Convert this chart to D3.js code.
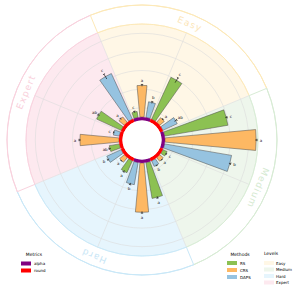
<!DOCTYPE html>
<html>
<head>
<meta charset="utf-8">
<script src="https://cdn.jsdelivr.net/npm/d3@7"></script>
<style>
  html, body { margin: 0; padding: 0; background: #fff; }
  svg text { font-family: "DejaVu Sans", sans-serif; }
</style>
</head>
<body>
<div id="chart"></div>
<script>
// levels (quadrants), methods and per-task data
const levels = ["Easy", "Medium", "Hard", "Expert"];
const methods = ["RS", "CRS", "DAPS"];
const tasks = ["t1", "t2", "t3", "t4", "t5", "t6", "t7", "t8"];
const taskMetric = ["alpha", "round", "alpha", "round", "alpha", "round", "round", "round"];
const metrics = ["alpha", "round"];

// bar heights (arbitrary radial units 0-100)
const rsValues = [6.5, 49.5, 69, 5, 39, 14, 11, 29];
const crsValues = [34, 6.5, 98, 5, 53, 6.5, 42, 7.5];
const dapsValues = [17, 17, 73, 6.5, 24, 17, 6.5, 54];
const rsErr = [0.8, 3, 1, 0.5, 1, 1, 1, 1];
const crsErr = [1, 0.8, 1, 0.5, 1, 0.5, 1, 0.8];
const dapsErr = [1, 1.5, 1, 0.5, 1, 1, 0.5, 3];
const rsLetters = ["c", "c", "c", "c", "a", "a", "ab", "ab"];
const crsLetters = ["a", "a", "a", "a", "a", "a", "a", "a"];
const dapsLetters = ["b", "ab", "b", "b", "b", "b", "c", "c"];

const width = 298, height = 289;
const cx = 142, cy = 140;
const r0 = 23, rShade = 116, rOuter = 135;

const methodColor = d3.scaleOrdinal().domain(methods).range(["#8cc152", "#fdb863", "#96c3e0"]);
const metricColor = d3.scaleOrdinal().domain(metrics).range(["#800080", "#ff0000"]);
const levelFill = d3.scaleOrdinal().domain(levels).range(["#fff7e6", "#eef6ec", "#e6f5fd", "#fde9ef"]);
const levelLine = d3.scaleOrdinal().domain(levels).range(["#fde9b8", "#d8ecd5", "#c9e8f8", "#f9d2de"]);
const levelText = d3.scaleOrdinal().domain(levels).range(["#fce6b8", "#d4e9d0", "#c8e6f6", "#f9cfdb"]);

const rows = [];
tasks.forEach((t, i) => {
  rows.push({ task: t, method: "RS", value: rsValues[i], err: rsErr[i], letter: rsLetters[i] });
  rows.push({ task: t, method: "CRS", value: crsValues[i], err: crsErr[i], letter: crsLetters[i] });
  rows.push({ task: t, method: "DAPS", value: dapsValues[i], err: dapsErr[i], letter: dapsLetters[i] });
});
rows.forEach((d, i) => d.key = i);

const off = -Math.PI / 8;
const angle = d3.scaleBand().domain(rows.map(d => d.key))
  .range([off, off + 2 * Math.PI]).paddingInner(0.3).paddingOuter(0.15);
const levelAngle = d3.scaleBand().domain(levels).range([off, off + 2 * Math.PI]);
const taskAngle = d3.scaleBand().domain(tasks).range([off, off + 2 * Math.PI]);
const y = d3.scaleLinear().domain([0, 100]).range([r0, rShade]);

const pt = (a, r) => [r * Math.sin(a), -r * Math.cos(a)];

const svg = d3.select("#chart").append("svg")
  .attr("width", width).attr("height", height)
  .attr("viewBox", [0, 0, width, height]);

const g = svg.append("g").attr("transform", `translate(${cx},${cy})`);

// level sectors
g.selectAll(".sector").data(levels).join("path")
  .attr("d", d => d3.arc()({ innerRadius: 0, outerRadius: rShade,
    startAngle: levelAngle(d), endAngle: levelAngle(d) + levelAngle.bandwidth() }))
  .attr("fill", d => levelFill(d));

// outer thin ring per level
g.selectAll(".outer").data(levels).join("path")
  .attr("d", d => d3.arc()({ innerRadius: rOuter, outerRadius: rOuter,
    startAngle: levelAngle(d), endAngle: levelAngle(d) + levelAngle.bandwidth() }))
  .attr("fill", "none")
  .attr("stroke", d => levelLine(d)).attr("stroke-width", 1);

// edge of shaded area
g.selectAll(".edge").data(levels).join("path")
  .attr("d", d => d3.arc()({ innerRadius: rShade, outerRadius: rShade,
    startAngle: levelAngle(d), endAngle: levelAngle(d) + levelAngle.bandwidth() }))
  .attr("fill", "none")
  .attr("stroke", d => levelLine(d)).attr("stroke-width", 0.8);

// boundary lines between levels
g.selectAll(".bound").data(levels).join("line")
  .attr("x1", d => pt(levelAngle(d), rShade)[0]).attr("y1", d => pt(levelAngle(d), rShade)[1])
  .attr("x2", d => pt(levelAngle(d), rOuter)[0]).attr("y2", d => pt(levelAngle(d), rOuter)[1])
  .attr("stroke", d => levelLine(d)).attr("stroke-width", 1);

// grid circles
const gridVals = [10, 30, 50, 70, 90];
g.selectAll(".gridc").data(gridVals).join("circle")
  .attr("r", d => y(d)).attr("fill", "none")
  .attr("stroke", "#dcdcdc").attr("stroke-width", 0.6);

// radial grid lines
const gridAngles = d3.range(8).map(i => Math.PI / 8 + i * Math.PI / 4);
g.selectAll(".gridr").data(gridAngles).join("line")
  .attr("x1", d => pt(d, r0)[0]).attr("y1", d => pt(d, r0)[1])
  .attr("x2", d => pt(d, rShade)[0]).attr("y2", d => pt(d, rShade)[1])
  .attr("stroke", "#dcdcdc").attr("stroke-width", 0.6);

// bars
const barArc = d3.arc()
  .innerRadius(r0)
  .outerRadius(d => y(d.value))
  .startAngle(d => angle(d.key))
  .endAngle(d => angle(d.key) + angle.bandwidth());

g.selectAll(".bar").data(rows).join("path")
  .attr("d", barArc)
  .attr("fill", d => methodColor(d.method))
  .attr("stroke", "#4a4a4a").attr("stroke-width", 0.5);

// error bars
const mid = d => angle(d.key) + angle.bandwidth() / 2;
const eb = g.selectAll(".err").data(rows).join("g");
eb.append("line")
  .attr("x1", d => pt(mid(d), y(d.value - d.err))[0]).attr("y1", d => pt(mid(d), y(d.value - d.err))[1])
  .attr("x2", d => pt(mid(d), y(d.value + d.err))[0]).attr("y2", d => pt(mid(d), y(d.value + d.err))[1])
  .attr("stroke", "#000").attr("stroke-width", 0.6);
eb.append("line")
  .attr("x1", d => pt(mid(d) - 1.2 / y(d.value + d.err), y(d.value + d.err))[0])
  .attr("y1", d => pt(mid(d) - 1.2 / y(d.value + d.err), y(d.value + d.err))[1])
  .attr("x2", d => pt(mid(d) + 1.2 / y(d.value + d.err), y(d.value + d.err))[0])
  .attr("y2", d => pt(mid(d) + 1.2 / y(d.value + d.err), y(d.value + d.err))[1])
  .attr("stroke", "#000").attr("stroke-width", 0.6);

// significance letters
g.selectAll(".letter").data(rows).join("text")
  .attr("x", d => pt(mid(d), y(d.value + d.err) + 4)[0])
  .attr("y", d => pt(mid(d), y(d.value + d.err) + 4)[1])
  .attr("text-anchor", "middle").attr("dominant-baseline", "central")
  .attr("font-size", 4).attr("fill", "#222")
  .text(d => d.letter);

// metric ring + inner hole
g.selectAll(".ring").data(tasks).join("path")
  .attr("d", (d, i) => d3.arc()({ innerRadius: 19.5, outerRadius: r0,
    startAngle: taskAngle(d), endAngle: taskAngle(d) + taskAngle.bandwidth() }))
  .attr("fill", (d, i) => metricColor(taskMetric[i]));
g.append("circle").attr("r", 19.5).attr("fill", "#fff");

// level labels
const lab = g.selectAll(".lvl").data(levels).join("g")
  .attr("transform", d => {
    const a = levelAngle(d) + levelAngle.bandwidth() / 2;
    const [x, yy] = pt(a, 125.5);
    return `translate(${x},${yy}) rotate(${a * 180 / Math.PI})`;
  });
lab.append("text")
  .attr("text-anchor", "middle").attr("dominant-baseline", "central")
  .attr("font-size", 9).attr("letter-spacing", 1.2)
  .attr("fill", d => levelText(d))
  .text(d => d);

// legends
const leg = svg.append("g").attr("font-size", 4).attr("fill", "#000");
leg.append("text").attr("x", 34).attr("y", 256).attr("text-anchor", "middle")
  .attr("font-size", 4.5).text("Metrics");
metrics.forEach((m, i) => {
  leg.append("rect").attr("x", 21).attr("y", 261.5 + i * 7).attr("width", 10).attr("height", 4)
    .attr("fill", metricColor(m));
  leg.append("text").attr("x", 34).attr("y", 263.5 + i * 7).attr("dominant-baseline", "central").text(m);
});
leg.append("text").attr("x", 240).attr("y", 256).attr("text-anchor", "middle")
  .attr("font-size", 4.5).text("Methods");
methods.forEach((m, i) => {
  leg.append("rect").attr("x", 227).attr("y", 261 + i * 7).attr("width", 10).attr("height", 4)
    .attr("fill", methodColor(m));
  leg.append("text").attr("x", 240).attr("y", 263 + i * 7).attr("dominant-baseline", "central").text(m);
});
leg.append("text").attr("x", 271).attr("y", 255).attr("text-anchor", "middle")
  .attr("font-size", 4.5).text("Levels");
levels.forEach((l, i) => {
  leg.append("rect").attr("x", 264).attr("y", 261 + i * 6.5).attr("width", 10).attr("height", 4)
    .attr("fill", levelFill(l));
  leg.append("text").attr("x", 276).attr("y", 263 + i * 6.5).attr("dominant-baseline", "central").text(l);
});
</script>
</body>
</html>
